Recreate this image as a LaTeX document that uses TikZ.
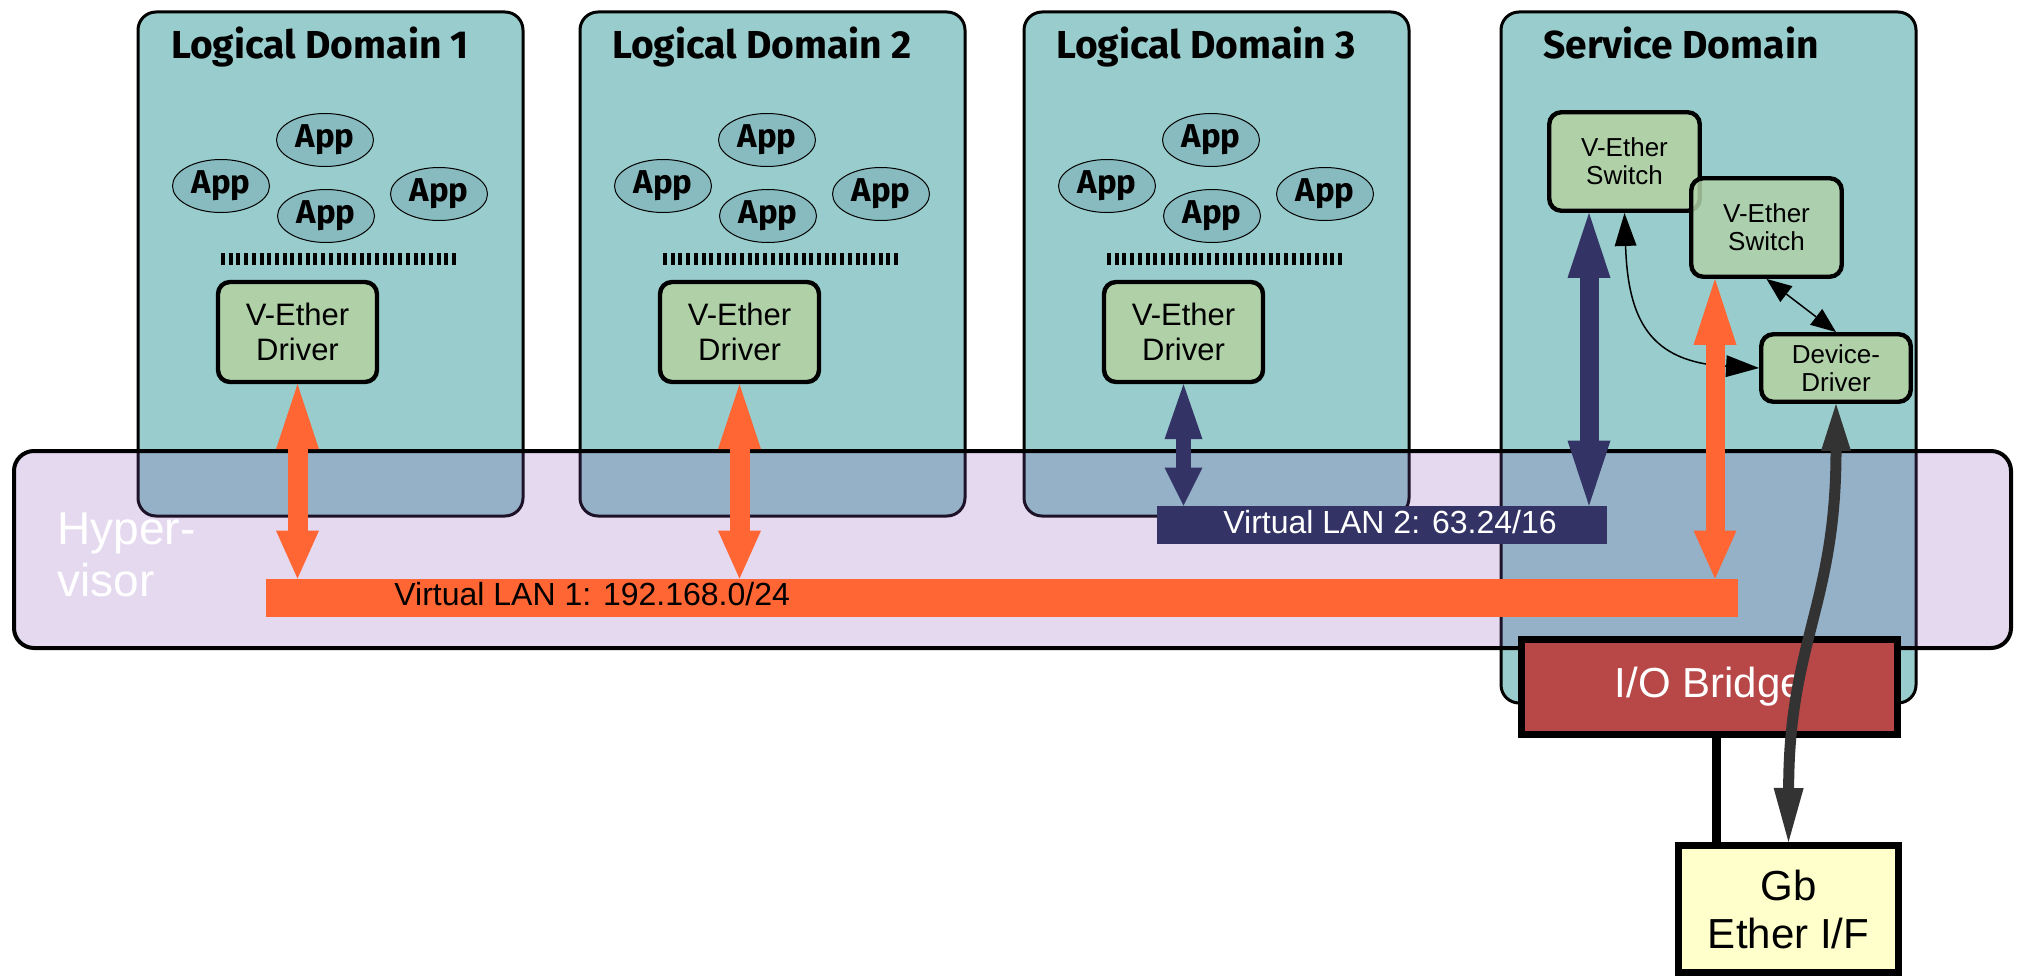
\documentclass[tikz,border=0pt]{standalone}
\usepackage{fontspec}
\setmainfont{Liberation Sans}
\newfontfamily\firafont{Fira Sans}
\usetikzlibrary{arrows.meta,calc,shapes.geometric}
\definecolor{tealA}{RGB}{153,204,204}
\definecolor{appfill}{RGB}{136,187,192}
\definecolor{greenA}{RGB}{176,208,168}
\definecolor{hvfill}{RGB}{137,82,187}
\definecolor{orangeA}{RGB}{255,102,51}
\definecolor{navyA}{RGB}{51,51,102}
\definecolor{grayA}{RGB}{51,51,51}
\definecolor{iored}{RGB}{184,72,72}
\definecolor{gbyellow}{RGB}{255,255,204}
\tikzset{
  domainbox/.style={draw=black, line width=1.5pt, fill=tealA, rounded corners=9pt, anchor=north west, inner sep=0pt},
  dtitle/.style={anchor=base, inner sep=0pt, font=\firafont\bfseries\fontsize{19.5pt}{22pt}\selectfont},
  app/.style={ellipse, draw=black, line width=0.5pt, fill=appfill, minimum width=48.5pt, minimum height=26.5pt, inner sep=0pt, font=\firafont\bfseries\fontsize{16.5pt}{18pt}\selectfont},
  sepbar/.style={line width=6pt, dash pattern=on 2pt off 1.85pt},
  greenbox/.style={draw=black, line width=2.2pt, fill=greenA, rounded corners=6pt, align=center, inner sep=0pt},
  drvfont/.style={font=\fontsize{15.5pt}{17.5pt}\selectfont},
  smallfont/.style={font=\fontsize{13pt}{14pt}\selectfont},
  tips/.style n args={3}{arrows={Triangle[length=#1,width=#3,line width=0pt]-Triangle[length=#2,width=#3,line width=0pt]}},
  thinarrow/.style={draw=black, line width=0.75pt},
  lanbar/.style={inner sep=0pt, minimum height=19pt},
  lanfont/.style={font=\fontsize{16pt}{18pt}\selectfont, inner sep=0pt},
}
\begin{document}
\begin{tikzpicture}[x=0.5pt,y=-0.5pt]
\useasboundingbox (0,0) rectangle (2023,979);

% ---------- logical domains ----------
\foreach \i/\lx in {1/135,2/577,3/1021}{
  \node[domainbox, minimum width=192.5pt, minimum height=252pt] (ld\i) at ({\lx+1.5},10.5) {};
  \node[dtitle] (title\i) at ({\lx+185},59) {Logical Domain \i};
  \node[app] (appA\i) at ({\lx+190},140) {App};
  \node[app] (appB\i) at ({\lx+86},186) {App};
  \node[app] (appC\i) at ({\lx+191},216) {App};
  \node[app] (appD\i) at ({\lx+304},194) {App};
  \draw[sepbar] ({\lx+86},259) -- ({\lx+322},259);
  \node[greenbox, drvfont, minimum width=79.5pt, minimum height=50pt] (drv\i) at ({\lx+162.5},332) {V-Ether\\Driver};
}

% ---------- service domain ----------
\node[domainbox, minimum width=207.5pt, minimum height=345.5pt] (sd) at (1499.5,10.5) {};
\node[dtitle] (sdtitle) at (1681,59) {Service Domain};
\node[greenbox, smallfont, minimum width=75.25pt, minimum height=49.25pt] (sw1) at (1624.5,161.5) {V-Ether\\Switch};
\node[greenbox, smallfont, fill opacity=0.85, text opacity=1, minimum width=75.25pt, minimum height=49.25pt] (sw2) at (1766.5,227.5) {V-Ether\\Switch};
\node[greenbox, smallfont, minimum width=74.75pt, minimum height=33.75pt] (dd) at (1836,368) {Device-\\Driver};

\draw[thinarrow, tips={16.5pt}{16.5pt}{11pt}] (sw1.south) .. controls (1628,320) and (1650,362) .. (dd.west);
\draw[thinarrow, tips={12.5pt}{12.5pt}{10pt}] (sw2.south) -- (dd.north);

% ---------- hypervisor ----------
\node[draw=black, line width=2pt, fill=hvfill, fill opacity=0.22, rounded corners=10pt, inner sep=0pt, minimum width=998.5pt, minimum height=98.5pt] (hv) at (1012.5,549.5) {};
\node[anchor=north west, inner sep=0pt, align=left, text=white, font=\fontsize{23pt}{26pt}\selectfont] (hvtext) at (57,512) {Hyper-\\visor};

% ---------- virtual LANs ----------
\node[lanbar, fill=orangeA, minimum width=736pt] (lan1) at (1002,598) {};
\node[lanfont, anchor=base west, text=black] (lan1txt) at (394,605) {Virtual LAN 1: 192.168.0/24};
\node[lanbar, fill=navyA, minimum width=225pt] (lan2) at (1382,525) {};
\node[lanfont, anchor=base, text=white] (lan2txt) at (1390,533) {Virtual LAN 2: 63.24/16};

\coordinate (navx) at (1589,0);
\coordinate (orx) at (1715,0);
\coordinate (blx) at (1716,0);

\draw[orangeA, line width=10pt, tips={32.5pt}{24pt}{21.5pt}] (drv1.south) -- (drv1.south |- lan1.north);
\draw[orangeA, line width=10pt, tips={32.5pt}{24pt}{21.5pt}] (drv2.south) -- (drv2.south |- lan1.north);
\draw[navyA, line width=7.8pt, tips={27.5pt}{19pt}{19pt}] (drv3.south) -- (drv3.south |- lan2.north);
\draw[navyA, line width=9.5pt, tips={32.5pt}{32.5pt}{21.5pt}] (sw1.south -| navx) -- (lan2.north -| navx);
\draw[orangeA, line width=9.5pt, tips={33pt}{24pt}{21.5pt}] (sw2.south -| orx) -- (lan1.north -| orx);

% ---------- I/O bridge and Gb Ether ----------
\node[draw=black, line width=3.5pt, fill=iored, inner sep=0pt, minimum width=188pt, minimum height=47.5pt, text=white, font=\fontsize{21pt}{24pt}\selectfont] (io) at (1709.5,687) {I/O Bridge};
\node[draw=black, line width=3.5pt, fill=gbyellow, inner sep=0pt, minimum width=110pt, minimum height=63.5pt, align=center, font=\fontsize{21pt}{24pt}\selectfont] (gb) at (1788.5,909) {Gb\\Ether I/F};
\draw[line width=4.5pt] (io.south -| blx) -- (gb.north -| blx);

\draw[grayA, line width=5.5pt, tips={23.5pt}{27pt}{15pt}] (dd.south) .. controls (1836,604) and (1789,642) .. (gb.north);
\end{tikzpicture}
\end{document}
